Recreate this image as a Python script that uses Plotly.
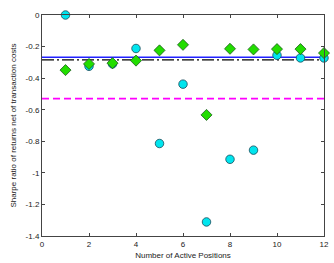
import plotly.graph_objects as go

positions = [1, 2, 3, 4, 5, 6, 7, 8, 9, 10, 11, 12]
cyan_vals = [0.0, -0.325, -0.31, -0.212, -0.814, -0.438, -1.311, -0.914, -0.856, -0.255, -0.272, -0.272]
green_vals = [-0.349, -0.31, -0.305, -0.289, -0.224, -0.189, -0.633, -0.214, -0.218, -0.216, -0.216, -0.241]
blue_level = -0.268
black_level = -0.284
magenta_level = -0.530
x_range = [0, 12]
y_range = [-1.4, 0]
x_ticks = [0, 2, 4, 6, 8, 10, 12]
y_ticks = [0, -0.2, -0.4, -0.6, -0.8, -1, -1.2, -1.4]
y_tick_text = ["0", "-0.2", "-0.4", "-0.6", "-0.8", "-1", "-1.2", "-1.4"]

fig = go.Figure()
fig.add_trace(go.Scatter(x=x_range, y=[blue_level]*2, mode="lines",
                         line=dict(color="#2020ff", width=1.4), showlegend=False, cliponaxis=False))
fig.add_trace(go.Scatter(x=x_range, y=[black_level]*2, mode="lines",
                         line=dict(color="black", width=1.4, dash="12px,3px,2px,3px"), showlegend=False, cliponaxis=False))
fig.add_trace(go.Scatter(x=x_range, y=[magenta_level]*2, mode="lines",
                         line=dict(color="#ff00ff", width=1.6, dash="7px,4px"), showlegend=False, cliponaxis=False))
fig.add_trace(go.Scatter(x=positions, y=cyan_vals, mode="markers",
                         marker=dict(symbol="circle", size=8.5, color="#00e5ee",
                                     line=dict(color="#1a4a5a", width=0.8)),
                         showlegend=False, cliponaxis=False))
fig.add_trace(go.Scatter(x=positions, y=green_vals, mode="markers",
                         marker=dict(symbol="diamond", size=8.5, color="#22dd00",
                                     line=dict(color="#1a5a1a", width=0.8)),
                         showlegend=False, cliponaxis=False))

axis_common = dict(showgrid=False, zeroline=False, showline=True, linecolor="#444444",
                   linewidth=1, mirror="ticks", ticks="inside", ticklen=3,
                   tickcolor="#444444", tickfont=dict(family="Liberation Sans, Arial", size=8, color="#222222"))

fig.update_xaxes(range=x_range, tickvals=x_ticks, **axis_common,
                 title=dict(text="Number of Active Positions", standoff=4,
                            font=dict(family="Liberation Sans, Arial", size=8, color="#222222")))
fig.update_yaxes(range=y_range, tickvals=y_ticks, ticktext=y_tick_text, **axis_common,
                 title=dict(text="Sharpe ratio of returns net of transaction costs", standoff=7,
                            font=dict(family="Liberation Sans, Arial", size=8, color="#222222")))

fig.update_layout(width=334, height=263, margin=dict(l=42, r=5, t=15, b=24),
                  paper_bgcolor="white", plot_bgcolor="white")
fig.write_html("out.html", config={"displayModeBar": False},
               post_script="document.body.style.margin='0';document.body.style.overflow='hidden';")
